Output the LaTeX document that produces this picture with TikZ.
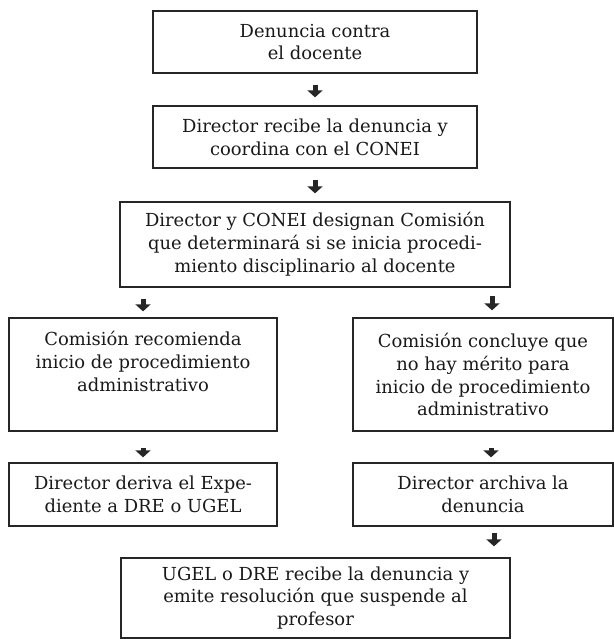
\documentclass[tikz,border=0pt]{standalone}
\usepackage{fontspec}
\setmainfont{DejaVu Serif}
\usetikzlibrary{arrows.meta,calc}
\begin{document}
\begin{tikzpicture}[x=1bp,y=-1bp,
  box/.style={draw=black!85, line width=1.3bp, align=center, inner sep=0pt,
    font=\fontsize{18}{23}\selectfont, text=black!90},
  flowarrow/.style={draw=black!85, line width=5bp,
    -{Triangle[width=15bp,length=7bp]}}]
\useasboundingbox (0,0) rectangle (614,639);
\node[box, minimum width=324bp, minimum height=62bp] (b1) at (315,42) {Denuncia contra\\el docente};
\node[box, minimum width=324bp, minimum height=62bp] (b2) at (315,137) {Director recibe la denuncia y\\coordina con el CONEI};
\node[box, minimum width=390bp, minimum height=85bp] (b3) at (315,244.5) {Director y CONEI designan Comisión\\que determinará si se inicia procedi-\\miento disciplinario al docente};
\node[box, minimum width=268bp, minimum height=113bp] (l1) at (143,374.5) {Comisión recomienda\\inicio de procedimiento\\administrativo\\[4bp]};
\node[box, minimum width=260bp, minimum height=113bp] (r1) at (483,374.5) {Comisión concluye que\\no hay mérito para\\inicio de procedimiento\\administrativo};
\node[box, minimum width=268bp, minimum height=63bp] (l2) at (143,494.5) {Director deriva el Expe-\\diente a DRE o UGEL};
\node[box, minimum width=260bp, minimum height=63bp] (r2) at (483,494.5) {Director archiva la\\denuncia};
\node[box, minimum width=389bp, minimum height=80bp] (b4) at (315.5,598) {UGEL o DRE recibe la denuncia y\\emite resolución que suspende al\\profesor};

\draw[flowarrow, shorten <=11bp, shorten >=8bp] (b1.south) -- (b2.north);
\draw[flowarrow, shorten <=11bp, shorten >=8bp] (b2.south) -- (b3.north);
\draw[flowarrow, shorten <=11bp, shorten >=6bp] (b3.south -| l1.north) -- (l1.north);
\draw[flowarrow, shorten <=8bp, shorten >=7bp] ($(b3.south -| r1.north)+(9,0)$) -- ($(r1.north)+(9,0)$);
\draw[flowarrow, shorten <=16bp, shorten >=5bp] (l1.south) -- (l2.north);
\draw[flowarrow, shorten <=16bp, shorten >=5bp] ($(r1.south)+(8,0)$) -- ($(r2.north)+(8,0)$);
\draw[flowarrow, shorten <=6bp, shorten >=11bp] ($(r2.south)+(11,0)$) -- ($(b4.north -| r2.south)+(11,0)$);
\end{tikzpicture}
\end{document}
